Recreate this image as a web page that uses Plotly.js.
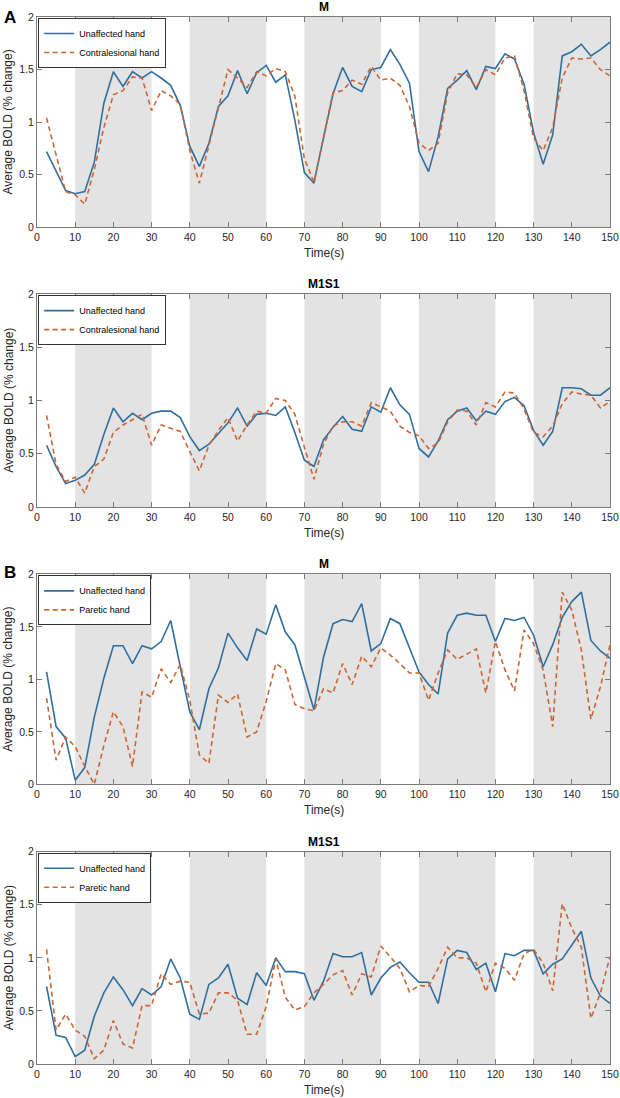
<!DOCTYPE html>
<html>
<head>
<meta charset="utf-8">
<script src="https://cdn.plot.ly/plotly-3.0.1.min.js"></script>
<style>
html,body{margin:0;padding:0;background:#fff;}
#chart{width:620px;height:1098px;}
</style>
</head>
<body>
<div id="chart"></div>
<script>
// Time points (s)
const time = [2.5,5,7.5,10,12.5,15,17.5,20,22.5,25,27.5,30,32.5,35,37.5,40,42.5,45,47.5,50,
  52.5,55,57.5,60,62.5,65,67.5,70,72.5,75,77.5,80,82.5,85,87.5,90,92.5,95,97.5,100,
  102.5,105,107.5,110,112.5,115,117.5,120,122.5,125,127.5,130,132.5,135,137.5,140,142.5,145,147.5,150];

// Task blocks (shaded)
const blockStart = [10, 40, 70, 100, 130];
const blockEnd   = [30, 60, 90, 120, 150];

// Panel titles and legend names
const panelTitles = ["M", "M1S1", "M", "M1S1"];
const seriesNames = [
  ["Unaffected hand", "Contralesional hand"],
  ["Unaffected hand", "Contralesional hand"],
  ["Unaffected hand", "Paretic hand"],
  ["Unaffected hand", "Paretic hand"]
];
const panelLetters = ["A", "B"];
const xTickVals = [0,10,20,30,40,50,60,70,80,90,100,110,120,130,140,150];
const yTickVals = [0,0.5,1,1.5,2];
const yTickText = ["0","0.5","1","1.5","2"];

// Panel A, M
const aM_unaffected = [0.72,0.53,0.35,0.32,0.34,0.62,1.18,1.48,1.34,1.48,1.42,1.48,1.42,1.35,1.16,0.77,0.58,0.80,1.15,1.25,
  1.49,1.27,1.47,1.54,1.38,1.45,1.02,0.52,0.42,0.85,1.27,1.52,1.34,1.29,1.50,1.52,1.69,1.55,1.37,0.72,
  0.53,0.86,1.32,1.40,1.49,1.31,1.53,1.51,1.65,1.60,1.36,0.90,0.60,0.88,1.63,1.67,1.74,1.63,1.69,1.76];
const aM_contra = [1.04,0.70,0.34,0.31,0.22,0.55,0.95,1.26,1.30,1.43,1.42,1.11,1.30,1.25,1.17,0.73,0.42,0.78,1.15,1.50,
  1.42,1.33,1.48,1.44,1.51,1.48,1.25,0.65,0.43,0.85,1.28,1.30,1.40,1.36,1.53,1.40,1.42,1.35,1.15,0.80,
  0.73,0.80,1.28,1.46,1.45,1.33,1.50,1.45,1.61,1.63,1.30,0.85,0.73,0.95,1.42,1.61,1.60,1.61,1.50,1.44];

// Panel A, M1S1
const aS_unaffected = [0.58,0.38,0.22,0.25,0.30,0.40,0.68,0.93,0.80,0.88,0.82,0.88,0.90,0.90,0.84,0.66,0.53,0.59,0.69,0.79,
  0.93,0.76,0.87,0.88,0.86,0.94,0.70,0.44,0.38,0.63,0.75,0.85,0.73,0.71,0.94,0.89,1.12,0.96,0.87,0.55,
  0.47,0.62,0.82,0.90,0.93,0.81,0.90,0.87,0.99,1.03,0.95,0.72,0.58,0.71,1.12,1.12,1.11,1.05,1.05,1.12];
const aS_contra = [0.86,0.40,0.24,0.28,0.13,0.38,0.45,0.70,0.77,0.82,0.87,0.58,0.77,0.74,0.71,0.52,0.34,0.58,0.72,0.84,
  0.62,0.77,0.90,0.88,1.02,1.00,0.87,0.56,0.26,0.59,0.76,0.80,0.80,0.76,0.98,0.94,0.90,0.76,0.70,0.67,
  0.55,0.60,0.80,0.91,0.90,0.77,0.98,0.94,1.08,1.07,0.92,0.70,0.66,0.76,0.97,1.08,1.06,1.05,0.93,0.99];

// Panel B, M
const bM_unaffected = [1.07,0.55,0.44,0.04,0.16,0.64,1.01,1.32,1.32,1.15,1.32,1.29,1.36,1.56,1.12,0.69,0.52,0.91,1.11,1.44,
  1.30,1.18,1.48,1.43,1.71,1.45,1.33,1.03,0.71,1.21,1.53,1.57,1.55,1.72,1.27,1.34,1.58,1.53,1.30,1.07,
  0.95,0.86,1.44,1.61,1.63,1.61,1.61,1.36,1.58,1.56,1.59,1.42,1.12,1.33,1.59,1.74,1.83,1.37,1.27,1.20];
const bM_paretic = [0.82,0.23,0.45,0.36,0.17,0.00,0.37,0.69,0.55,0.17,0.88,0.83,1.10,0.97,1.14,0.80,0.28,0.20,0.85,0.78,
  0.86,0.45,0.50,0.79,1.15,1.09,0.76,0.72,0.70,0.91,0.87,1.15,0.95,1.22,1.12,1.30,1.23,1.15,1.06,1.06,
  0.80,1.06,1.28,1.19,1.24,1.29,0.87,1.36,1.09,0.89,1.47,1.34,1.09,0.55,1.83,1.66,1.28,0.62,0.93,1.33];

// Panel B, M1S1
const bS_unaffected = [0.73,0.27,0.25,0.07,0.13,0.45,0.67,0.82,0.70,0.55,0.71,0.65,0.73,0.99,0.81,0.47,0.42,0.75,0.81,0.94,
  0.62,0.56,0.86,0.74,1.00,0.87,0.87,0.85,0.60,0.78,1.04,1.01,1.01,1.05,0.65,0.81,0.91,0.96,0.86,0.77,
  0.77,0.57,0.99,1.07,1.05,0.89,0.95,0.68,1.04,1.02,1.07,1.07,0.85,0.94,0.99,1.12,1.25,0.81,0.64,0.57];
const bS_paretic = [1.08,0.32,0.47,0.32,0.26,0.05,0.13,0.41,0.19,0.15,0.55,0.55,0.85,0.75,0.78,0.77,0.47,0.48,0.67,0.67,
  0.60,0.28,0.28,0.54,0.99,0.63,0.51,0.54,0.67,0.75,0.84,0.88,0.65,0.85,0.82,1.11,1.01,0.90,0.68,0.74,
  0.73,0.90,1.10,1.00,1.00,0.95,0.68,0.95,0.90,0.79,1.04,1.08,0.95,0.69,1.51,1.28,1.10,0.43,0.67,1.01];

const panelData = [
  [aM_unaffected, aM_contra],
  [aS_unaffected, aS_contra],
  [bM_unaffected, bM_paretic],
  [bS_unaffected, bS_paretic]
];

const BLUE = "#2f6fa0";
const ORANGE = "#cc6534";
const FONT = "Liberation Sans, Arial, sans-serif";

// Layout geometry (paper fractions)
const domains = [[0.7991, 1.0], [0.532, 0.7354], [0.2671, 0.4677], [0.0, 0.2028]];

const traces = [];
const layout = {
  width: 620, height: 1098,
  margin: {l: 37, r: 10, t: 17, b: 34},
  paper_bgcolor: "#ffffff",
  plot_bgcolor: "#ffffff",
  font: {family: FONT, size: 10, color: "#262626"},
  shapes: [],
  annotations: []
};

for (let p = 0; p < 4; p++) {
  const ax = p === 0 ? "" : String(p + 1);
  const xa = "x" + ax, ya = "y" + ax;
  const legName = p === 0 ? "legend" : "legend" + (p + 1);
  traces.push({
    x: time, y: panelData[p][0], xaxis: xa, yaxis: ya, type: "scatter", mode: "lines",
    name: seriesNames[p][0], legend: legName,
    line: {color: BLUE, width: 1.6}
  });
  traces.push({
    x: time, y: panelData[p][1], xaxis: xa, yaxis: ya, type: "scatter", mode: "lines",
    name: seriesNames[p][1], legend: legName,
    line: {color: ORANGE, width: 1.6, dash: "5px,3.5px"}
  });
  const axCommon = {
    showline: true, linecolor: "#7a7a7a", linewidth: 1, mirror: "ticks",
    ticks: "inside", ticklen: 5, tickcolor: "#7a7a7a", tickwidth: 1,
    showgrid: false, zeroline: false,
    tickfont: {family: FONT, size: 10.5, color: "#262626"}
  };
  layout["xaxis" + ax] = Object.assign({}, axCommon, {
    domain: [0, 1], anchor: ya, range: [0, 150],
    tickmode: "array", tickvals: xTickVals
  });
  layout["yaxis" + ax] = Object.assign({}, axCommon, {
    domain: domains[p], anchor: xa, range: [0, 2],
    tickmode: "array", tickvals: yTickVals, ticktext: yTickText
  });
  layout[legName] = {
    x: 0.002, y: domains[p][1] - 0.001, xanchor: "left", yanchor: "top",
    xref: "paper", yref: "paper",
    bgcolor: "#ffffff", bordercolor: "#333333", borderwidth: 1,
    font: {family: FONT, size: 9, color: "#000000"},
    itemwidth: 30, tracegroupgap: 0,
    traceorder: "normal"
  };
  for (let b = 0; b < blockStart.length; b++) {
    layout.shapes.push({
      type: "rect", xref: xa, yref: ya + " domain",
      x0: blockStart[b], x1: blockEnd[b], y0: 0, y1: 1,
      fillcolor: "#e3e3e3", line: {width: 0}, layer: "below"
    });
  }
  // panel title
  layout.annotations.push({
    text: "<b>" + panelTitles[p] + "</b>", xref: xa + " domain", yref: ya + " domain",
    x: 0.5, y: 1, xanchor: "center", yanchor: "bottom", yshift: 1, showarrow: false,
    font: {family: FONT, size: 12, color: "#000000"}
  });
  // x axis title
  layout.annotations.push({
    text: "Time(s)", xref: xa + " domain", yref: ya + " domain",
    x: 0.5, y: 0, xanchor: "center", yanchor: "top", yshift: -17, showarrow: false,
    font: {family: FONT, size: 12, color: "#262626"}
  });
  // y axis title
  layout.annotations.push({
    text: "Average BOLD (% change)", xref: "paper", yref: ya + " domain",
    x: -0.05, y: 0.5, xanchor: "center", yanchor: "middle", textangle: -90, showarrow: false,
    font: {family: FONT, size: 12, color: "#262626"}
  });
}

// Panel letters
layout.annotations.push({
  text: "<b>" + panelLetters[0] + "</b>", xref: "paper", yref: "paper",
  x: -0.047, y: domains[0][1], xanchor: "center", yanchor: "middle", showarrow: false,
  font: {family: FONT, size: 17, color: "#000000"}
});
layout.annotations.push({
  text: "<b>" + panelLetters[1] + "</b>", xref: "paper", yref: "paper",
  x: -0.047, y: domains[2][1], yshift: 2, xanchor: "center", yanchor: "middle", showarrow: false,
  font: {family: FONT, size: 17, color: "#000000"}
});

Plotly.newPlot("chart", traces, layout, {staticPlot: true, displayModeBar: false});
</script>
</body>
</html>
